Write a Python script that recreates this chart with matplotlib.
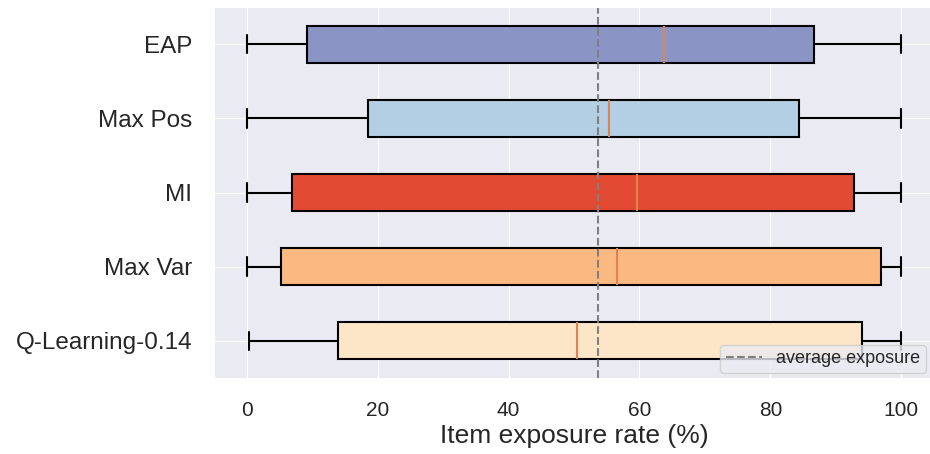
import matplotlib
matplotlib.use("Agg")
import matplotlib.pyplot as plt
import seaborn as sns

sns.set_style("darkgrid")
plt.rcParams['font.family'] = ['Liberation Sans', 'DejaVu Sans']

# box statistics (item exposure rate, %)
methods = ["EAP", "Max Pos", "MI", "Max Var", "Q-Learning-0.14"]
whislo = [0.0, 0.0, 0.0, 0.0, 0.3]
q1 = [9.2, 18.5, 6.9, 5.3, 13.9]
med = [63.8, 55.4, 59.7, 56.6, 50.5]
q3 = [86.7, 84.3, 92.8, 96.9, 94.0]
whishi = [100.0, 100.0, 100.0, 100.0, 100.0]
avg_exposure = 53.6

colors = ["#8a95c6", "#b3cfe3", "#e24a33", "#fbb982", "#fde6c8"]

stats = []
for i, m in enumerate(methods):
    stats.append(dict(label=m, whislo=whislo[i], q1=q1[i], med=med[i],
                      q3=q3[i], whishi=whishi[i], fliers=[]))

fig = plt.figure(figsize=(9.3, 4.54), dpi=100)
ax = fig.add_axes([214 / 930, 76 / 454, 720 / 930, 371 / 454])

bp = ax.bxp(stats, positions=range(1, len(methods) + 1), vert=False,
            patch_artist=True, widths=0.5,
            boxprops=dict(linewidth=1.5, edgecolor="black"),
            whiskerprops=dict(linewidth=1.5, color="black"),
            capprops=dict(linewidth=1.5, color="black"),
            medianprops=dict(linewidth=1.5, color="#dd8452"))
for patch, c in zip(bp["boxes"], colors):
    patch.set_facecolor(c)

ax.axvline(avg_exposure, color="grey", linestyle="--", linewidth=1.5,
           label="average exposure")

ax.set_xlim(-5, 105)
ax.set_ylim(5.5, 0.5)
ax.set_xticks([0, 20, 40, 60, 80, 100])
ax.tick_params(axis="y", labelsize=17.5, colors="#262626", pad=12)
ax.tick_params(axis="x", labelsize=15, colors="#262626", pad=13)
ax.set_xlabel("Item exposure rate (%)", fontsize=19, color="#262626",
              labelpad=3)
ax.legend(loc="lower right", fontsize=13, bbox_to_anchor=(0.996, 0.0),
          borderpad=0.3, borderaxespad=0.3)

fig.savefig("out.png", dpi=100)
